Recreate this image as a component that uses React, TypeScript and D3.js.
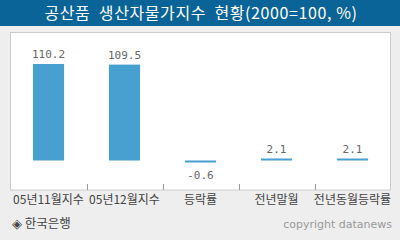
import React from "react";
import * as d3 from "d3";

const categories = ["05년11월지수", "05년12월지수", "등락률", "전년말월", "전년동월등락률"];
const values = [110.2, 109.5, -0.6, 2.1, 2.1];
const valueLabels = ["110.2", "109.5", "-0.6", "2.1", "2.1"];
const title = "공산품  생산자물가지수  현황(2000=100, %)";
const source = "◈ 한국은행";
const credit = "copyright datanews";

export default function App() {
  const W = 400, H = 240;
  const left = 10.5, right = 390.5, top = 32.5, bottom = 190;
  const x = d3.scaleBand<string>().domain(categories).range([left, right]).paddingInner(0.59).paddingOuter(0.295);
  const y = d3.scaleLinear().domain([0, 120]).range([160.5, 55.4]);
  const bw = x.bandwidth();
  const ticks = categories.slice(1).map((_, i) => left + (right - left) / categories.length * (i + 1));
  const cjk = "'Noto Sans CJK KR', 'Noto Sans', sans-serif";
  return (
    <svg width={W} height={H} style={{ position: "absolute", left: 0, top: 0 }}>
      <rect x={0} y={0} width={W} height={H} fill="#eeeeee" />
      <rect x={0} y={0} width={W} height={26} fill="#0a6497" />
      <text x={201} y={19} textAnchor="middle" fill="#ffffff" fontSize={16} letterSpacing={0.6} fontFamily={cjk} style={{ whiteSpace: "pre" }}>{title}</text>
      <rect x={left} y={top} width={right - left} height={bottom - top} fill="#ffffff" stroke="#cccccc" strokeWidth={1} />
      {ticks.map((t, i) => (
        <line key={i} x1={Math.round(t) + 0.5} x2={Math.round(t) + 0.5} y1={184} y2={190} stroke="#999999" strokeWidth={1} />
      ))}
      {values.map((v, i) => {
        const x0 = x(categories[i])!;
        let y0 = Math.min(y(v), y(0));
        let h = Math.abs(y(v) - y(0));
        if (h < 2) { h = 2; if (v < 0) y0 = y(0); else y0 = y(0) - 2; }
        const labelY = v >= 0 ? y0 - 6 : y0 + h + 16;
        return (
          <g key={i}>
            <rect x={x0} y={y0} width={bw} height={h} fill="#47a0d0" />
            <text x={x0 + bw / 2} y={labelY} textAnchor="middle" fill="#666666" fontSize={11} fontFamily="'DejaVu Sans Mono', monospace">{valueLabels[i]}</text>
          </g>
        );
      })}
      {categories.map((c, i) => (
        <text key={c} x={x(c)! + bw / 2} y={204} textAnchor="middle" fill="#444444" fontSize={12} fontFamily={cjk}>{c}</text>
      ))}
      <text x={12} y={228} fill="#444444" fontSize={12.5} fontFamily={cjk}>{source}</text>
      <text x={392} y={228} textAnchor="end" fill="#999999" fontSize={11} fontFamily="'DejaVu Sans', sans-serif">{credit}</text>
    </svg>
  );
}
